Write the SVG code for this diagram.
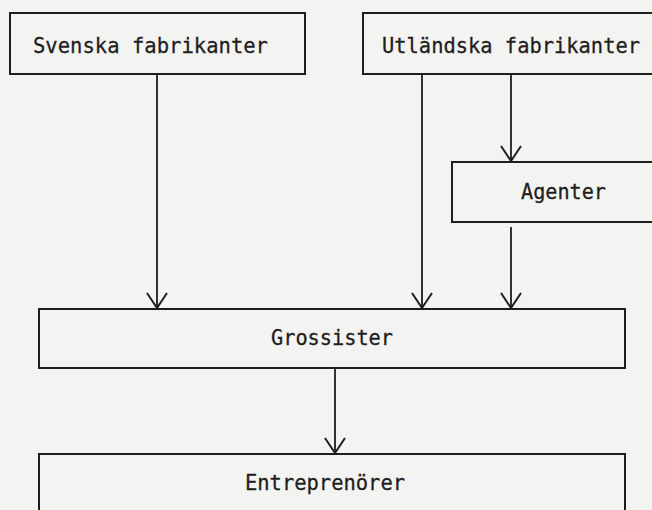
<svg xmlns="http://www.w3.org/2000/svg" width="652" height="510" viewBox="0 0 652 510">
  <style>
    .box { fill: none; stroke: #1e1e1e; stroke-width: 2; }
    .lbl { font-family: "DejaVu Sans Mono", "Liberation Mono", monospace; font-size: 22px; fill: #1e1e1e; stroke: #1e1e1e; stroke-width: 0.3; }
    .conn { fill: none; stroke: #1e1e1e; stroke-width: 1.8; }
  </style>
  <defs>
    <marker id="arr" markerUnits="userSpaceOnUse" viewBox="-16 -12 18 24" markerWidth="18" markerHeight="24" refX="0" refY="0" orient="auto" overflow="visible">
      <path d="M-15,-10 L0,0 L-15,10" fill="none" stroke="#1e1e1e" stroke-width="2"/>
    </marker>
  </defs>
  <rect x="0" y="0" width="652" height="510" fill="#f3f3f1"/>
  <g id="svenska">
    <rect class="box" x="10" y="13" width="295" height="61"/>
    <text class="lbl" x="33" y="53" textLength="235" lengthAdjust="spacingAndGlyphs">Svenska fabrikanter</text>
  </g>
  <g id="utlandska">
    <rect class="box" x="363" y="13" width="300" height="61"/>
    <text class="lbl" x="382" y="53" textLength="258" lengthAdjust="spacingAndGlyphs">Utländska fabrikanter</text>
  </g>
  <g id="agenter">
    <rect class="box" x="452" y="162" width="210" height="60"/>
    <text class="lbl" x="521" y="199" textLength="85" lengthAdjust="spacingAndGlyphs">Agenter</text>
  </g>
  <g id="grossister">
    <rect class="box" x="39" y="309" width="586" height="59"/>
    <text class="lbl" x="271" y="345" textLength="122" lengthAdjust="spacingAndGlyphs">Grossister</text>
  </g>
  <g id="entreprenorer">
    <rect class="box" x="39" y="454" width="586" height="70"/>
    <text class="lbl" x="245" y="490" textLength="160" lengthAdjust="spacingAndGlyphs">Entreprenörer</text>
  </g>
  <g id="connectors">
    <line class="conn" x1="157" y1="74" x2="157" y2="308" marker-end="url(#arr)"/>
    <line class="conn" x1="422" y1="74" x2="422" y2="308" marker-end="url(#arr)"/>
    <line class="conn" x1="511" y1="74" x2="511" y2="161" marker-end="url(#arr)"/>
    <line class="conn" x1="511" y1="227" x2="511" y2="308" marker-end="url(#arr)"/>
    <line class="conn" x1="335" y1="368" x2="335" y2="453" marker-end="url(#arr)"/>
  </g>
</svg>
